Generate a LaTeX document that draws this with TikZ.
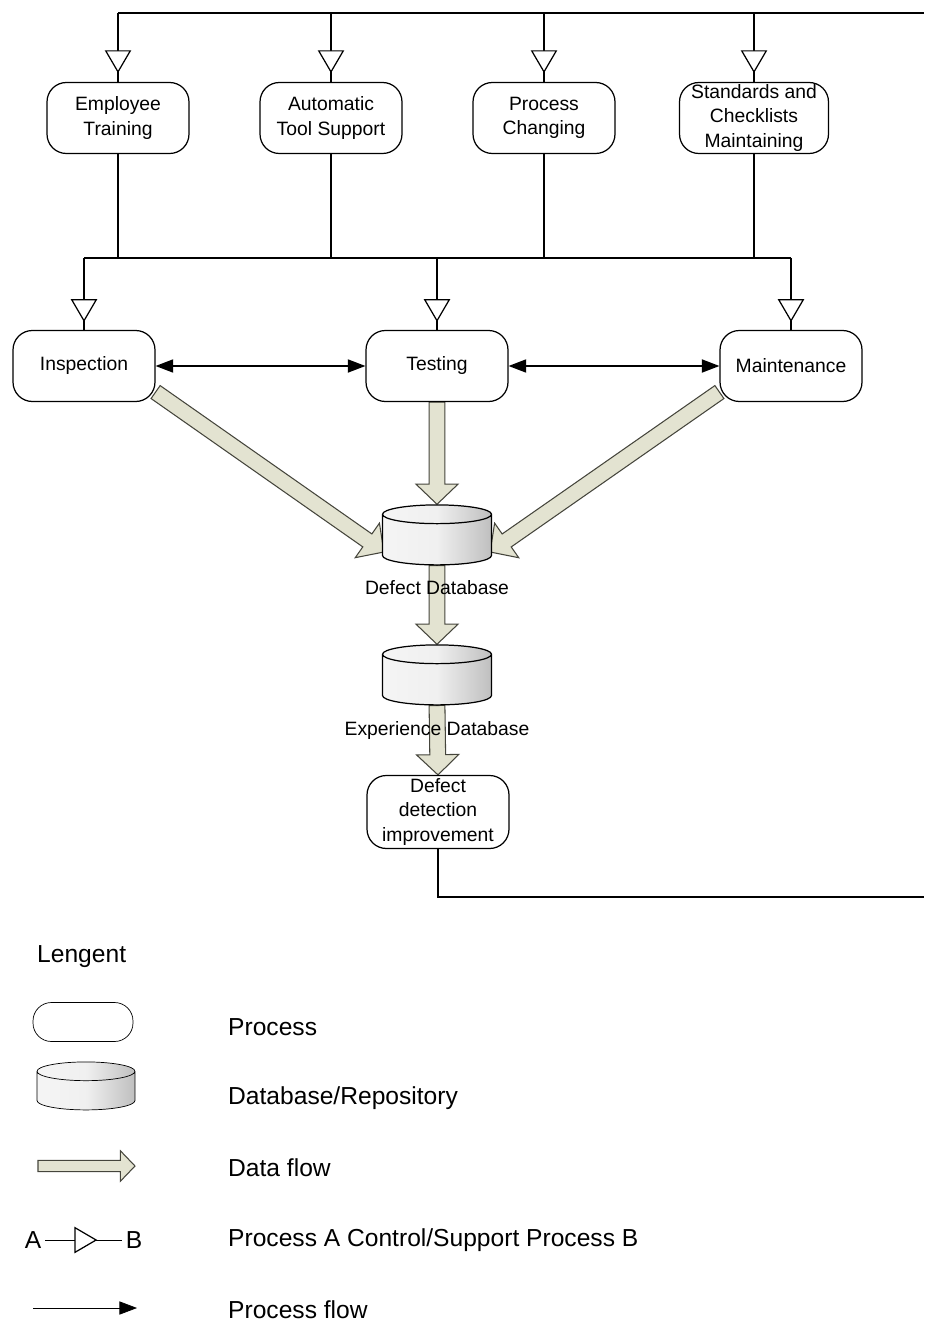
\documentclass[tikz,border=0pt]{standalone}
\usepackage{fontspec}
\setmainfont{Liberation Sans}
\usetikzlibrary{arrows.meta,positioning,calc,shapes.geometric,decorations.markings}
\definecolor{flowfill}{HTML}{E3E3D1}
\definecolor{flowline}{HTML}{45453C}
\pgfdeclarelayer{bg}
\pgfsetlayers{bg,main}
% block arrow for data flow: [size]{from}{to}
\newcommand\dataflow[3][1]{%
  \pgfmathsetmacro\fs{4.5*#1}\pgfmathsetmacro\fh{12*#1}\pgfmathsetmacro\fl{11.5*#1}%
  \coordinate (hb) at ($(#3)!\fl pt!(#2)$);
  \draw[flow] ($(#2)!\fs pt!90:(#3)$) -- ($(hb)!\fs pt!90:(#3)$) -- ($(hb)!\fh pt!90:(#3)$) -- (#3)
    -- ($(hb)!\fh pt!-90:(#3)$) -- ($(hb)!\fs pt!-90:(#3)$) -- ($(#2)!\fs pt!-90:(#3)$) -- cycle;}

\begin{document}
\begin{tikzpicture}[x=0.02cm,y=-0.02cm,line width=0.7pt,
  proc/.style={draw,rounded corners=11pt,minimum width=2.84cm,minimum height=1.42cm,
    align=center,inner sep=1pt,font=\fontsize{11}{13.7}\selectfont},
  db/.style={cylinder,shape border rotate=90,draw,aspect=1.6,minimum width=2.18cm,
    minimum height=1.2cm,left color=gray!8,right color=gray!50,middle color=gray!12},
  ctrl/.style={draw,postaction={decorate},decoration={markings,
    mark=at position #1 with {\arrow{Triangle[width=15pt,length=13pt,fill=white,line width=0.7pt]}}}},
  ctrl/.default=-5pt,
  pflow/.style={draw,-{Triangle[width=7.5pt,length=10pt]}},
  pflow2/.style={draw,{Triangle[width=7.5pt,length=10pt]}-{Triangle[width=7.5pt,length=10pt]}},
  flow/.style={draw=flowline,fill=flowfill,line width=0.6pt},
  lbl/.style={font=\fontsize{11}{13}\selectfont},
  lgtxt/.style={anchor=west,font=\fontsize{14}{16}\selectfont}]
\useasboundingbox (0,0) rectangle (924,1324);

% supporting processes
\node[proc] (et) at (118,118) {Employee\\Training};
\node[proc] (ats) at (331,118) {Automatic\\Tool Support};
\node[proc] (pc) at (544,118) {Process\\Changing};
\node[proc,minimum width=2.98cm] (scm) at (754,118) {Standards and\\Checklists\\Maintaining};

% main processes
\node[proc] (insp) at (84,366) {Inspection};
\node[proc] (test) at (437,366) {Testing};
\node[proc] (maint) at (791,366) {Maintenance};

% repositories
\node[db] (ddb) at (437,542) {};
\node[db] (edb) at (437,682) {};
\node[proc,minimum height=1.46cm] (ddi) at (438,812) {Defect\\detection\\improvement};

% control bus from improvement back to top
\coordinate (busL) at (118,13);
\coordinate (busR) at (924,13);
\coordinate (retR) at (924,897);
\draw (busL) -- (busR);
\draw (ddi.south) |- (retR);
\foreach \n in {et,ats,pc,scm}
  \draw[ctrl] (\n.north |- busL) -- (\n.north);

\coordinate (midL) at (84,258);
\coordinate (midR) at (791,258);
\draw (midL) -- (midR);
\foreach \n in {et,ats,pc,scm}
  \draw (\n.south) -- (\n.south |- midL);
\foreach \n in {insp,test,maint}
  \draw[ctrl=-4.5pt] (\n.north |- midL) -- (\n.north);

\draw[pflow2] (insp.east) -- (test.west);
\draw[pflow2] (test.east) -- (maint.west);

% data flows
\coordinate (f1e) at ($(ddb.west)+(2,10)$);
\coordinate (f3e) at ($(ddb.east)+(-2,10)$);
\begin{pgfonlayer}{bg}
\dataflow{insp.-20}{f1e}
\dataflow{test.south}{ddb.north}
\dataflow{maint.200}{f3e}
\dataflow{ddb.south}{edb.north}
\dataflow{edb.south}{ddi.north}
\end{pgfonlayer}

\node[lbl] (ddbl) at (437,588) {Defect Database};
\node[lbl] (edbl) at (437,730) {Experience Database};

% legend
\node[lgtxt] (lgt) at (31,957) {Lengent};
\node[proc,minimum width=2cm,minimum height=0.78cm,rounded corners=10.5pt] (lgproc) at (83,1022) {};
\node[lgtxt] (lgproct) at (222,1027) {Process};
\node[db,minimum width=1.96cm,minimum height=0.96cm] (lgdb) at (86,1093) {};
\node[lgtxt] (lgdbt) at (222,1098) {Database/Repository};
\coordinate (lgfs) at (38,1166);
\coordinate (lgfe) at (135,1166);
\dataflow[0.72]{lgfs}{lgfe}
\node[lgtxt] (lgft) at (222,1168) {Data flow};
\node[font=\fontsize{14}{16}\selectfont,inner sep=2pt] (lgA) at (33,1240) {A};
\node[font=\fontsize{14}{16}\selectfont,inner sep=2pt] (lgB) at (134,1240) {B};
\draw[ctrl=-14pt] (lgA) -- (lgB);
\node[lgtxt] (lgct) at (222,1240) {Process A Control/Support Process B};
\coordinate (lgpfs) at (33,1308);
\coordinate (lgpfe) at (137,1308);
\draw[pflow] (lgpfs) -- (lgpfe);
\node[lgtxt] (lgpft) at (222,1310) {Process flow};
\end{tikzpicture}
\end{document}
